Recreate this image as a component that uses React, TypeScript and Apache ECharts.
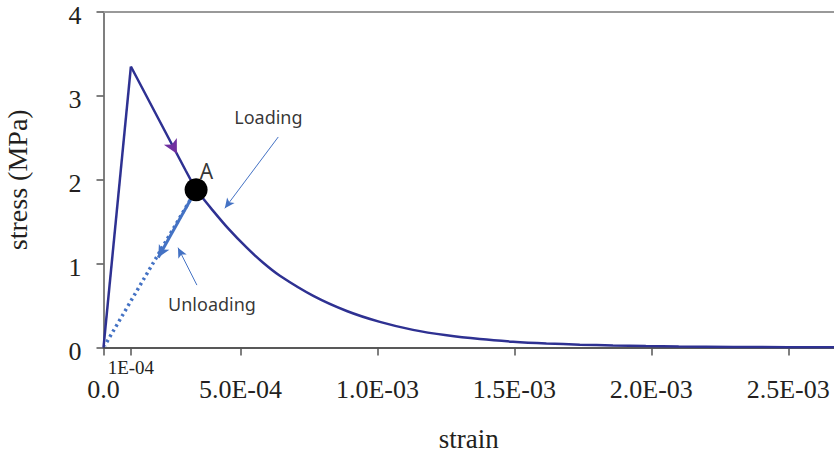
import React, { useEffect, useRef } from "react";
import * as echarts from "echarts";

// strain (-), stress (MPa)
const riseStrain = [0, 0.0001];
const riseStress = [0, 3.35];
const softenStrain = [0.0001, 0.0002, 0.0003, 0.000338];
const softenStress = [3.35, 2.73, 2.11, 1.88];
const tailStrain = [0.000338, 0.000395, 0.000455, 0.000523, 0.000583, 0.000644, 0.000766, 0.000888, 0.001009, 0.00113, 0.001253, 0.001374, 0.001495, 0.001617, 0.001739, 0.00186, 0.00198, 0.0021, 0.0023, 0.0025, 0.002667];
const tailStress = [1.88, 1.65, 1.42, 1.19, 1.01, 0.855, 0.615, 0.435, 0.305, 0.21, 0.145, 0.1, 0.069, 0.048, 0.034, 0.024, 0.017, 0.012, 0.007, 0.004, 0.003];
const pointA = [0.000338, 1.88];
const purpleArrow = [0.000268, 2.31];
const unloadDottedEnd = [0.000004, 0.02];
const unloadSolidEnd = [0.0002, 1.074];
const loadingArrow = [[0.000638, 2.51], [0.000443, 1.66]];
const unloadingArrow = [[0.000341, 0.744], [0.000272, 1.19]];
const loadingLabelPos = [0.000602, 2.75];
const unloadingLabelPos = [0.000396, 0.52];
const aLabelPos = [0.000376, 2.11];

const xLabelValues = [0, 0.0005, 0.001, 0.0015, 0.002, 0.0025];
const xLabelTexts = ["0.0", "5.0E-04", "1.0E-03", "1.5E-03", "2.0E-03", "2.5E-03"];
const xExtraValue = 0.0001;
const xExtraText = "1E-04";
const xMax = 0.002667;
const yTicks = [0, 1, 2, 3, 4];

const SERIF = "'Liberation Serif', 'Times New Roman', serif";
const SANS = "'Noto Sans', 'Open Sans', sans-serif";
const NAVY = "#2E3192";
const BLUE = "#4472C4";
const TEXT = "#231F20";

export default function App() {
  const ref = useRef<HTMLDivElement>(null);
  useEffect(() => {
    if (!ref.current) return;
    const chart = echarts.init(ref.current, undefined, { renderer: "svg" });
    const zip = (a: number[], b: number[]) => a.map((v, i) => [v, b[i]]);
    chart.setOption({
      animation: false,
      grid: { left: 103.5, top: 12, right: 0, bottom: 105.5, outerBoundsMode: "none", containLabel: false },
      xAxis: [
        {
          type: "value",
          position: "bottom",
          min: 0,
          max: xMax,
          name: "strain",
          nameLocation: "middle",
          nameGap: 78,
          nameTextStyle: { fontFamily: SERIF, fontSize: 27, color: TEXT },
          splitLine: { show: false },
          axisLine: { show: true, lineStyle: { color: "#222", width: 1.5 } },
          axisTick: {
            show: true,
            inside: false,
            length: 8,
            lineStyle: { color: "#555", width: 1.5 },
            customValues: [xExtraValue, ...xLabelValues],
          },
          axisLabel: {
            show: true,
            margin: 10,
            color: TEXT,
            customValues: [xExtraValue, ...xLabelValues],
            formatter: (v: number) => {
              if (Math.abs(v - xExtraValue) < 1e-9) return "{s|" + xExtraText + "}";
              const i = xLabelValues.findIndex((x) => Math.abs(x - v) < 1e-9);
              return i >= 0 ? "{b|" + xLabelTexts[i] + "}" : "";
            },
            rich: {
              s: { fontFamily: SERIF, fontSize: 19, color: TEXT },
              b: { fontFamily: SERIF, fontSize: 26, color: TEXT, padding: [19, 0, 0, 0] },
            },
          },
        },
        {
          type: "value",
          position: "top",
          min: 0,
          max: xMax,
          splitLine: { show: false },
          axisLine: { show: true, lineStyle: { color: "#999", width: 2 } },
          axisTick: { show: false },
          axisLabel: { show: false },
        },
      ],
      yAxis: {
        type: "value",
        min: 0,
        max: 4,
        interval: 1,
        name: "stress (MPa)",
        nameLocation: "middle",
        nameGap: 72,
        nameTextStyle: { fontFamily: SERIF, fontSize: 28, color: TEXT },
        splitLine: { show: false },
        axisLine: { show: true, lineStyle: { color: "#555", width: 1.5 } },
        axisTick: { show: true, length: 7, lineStyle: { color: "#555", width: 1.5 } },
        axisLabel: {
          margin: 22,
          color: TEXT,
          formatter: (v: number) => (yTicks.includes(v) ? "{v|" + v + "}" : ""),
          rich: {
            v: { fontFamily: SERIF, fontSize: 26, color: TEXT, padding: [7, 0, 0, 0] },
          },
        },
      },
      series: [
        {
          type: "line",
          data: zip(riseStrain, riseStress),
          symbol: "none",
          lineStyle: { color: NAVY, width: 2.5 },
          z: 3,
        },
        {
          type: "line",
          data: zip(softenStrain, softenStress),
          symbol: "none",
          lineStyle: { color: NAVY, width: 2.5 },
          z: 3,
        },
        {
          type: "line",
          data: zip(tailStrain, tailStress),
          symbol: "none",
          smooth: 0.3,
          lineStyle: { color: NAVY, width: 2.5 },
          z: 3,
        },
        {
          type: "line",
          data: [pointA, unloadDottedEnd],
          symbol: "none",
          lineStyle: { color: BLUE, width: 3.5, type: [2.5, 3.5] },
          z: 2,
          markLine: {
            silent: true,
            symbol: ["none", "arrow"],
            symbolSize: [9, 12],
            label: { show: false },
            lineStyle: { color: BLUE, width: 3, type: "solid" },
            data: [[{ coord: pointA }, { coord: unloadSolidEnd }]],
          },
        },
        {
          type: "line",
          data: [],
          symbol: "none",
          markLine: {
            silent: true,
            symbol: ["none", "arrow"],
            symbolSize: [7, 10],
            label: { show: false },
            lineStyle: { color: BLUE, width: 1, type: "solid" },
            data: [
              [{ coord: loadingArrow[0] }, { coord: loadingArrow[1] }],
              [{ coord: unloadingArrow[0] }, { coord: unloadingArrow[1] }],
            ],
          },
        },
        {
          type: "scatter",
          data: [purpleArrow],
          symbol: "arrow",
          symbolSize: [11, 14],
          symbolRotate: -152,
          itemStyle: { color: "#7030A0", opacity: 1 },
          z: 4,
        },
        {
          type: "scatter",
          data: [pointA],
          symbol: "circle",
          symbolSize: 23,
          itemStyle: { color: "#000", opacity: 1 },
          z: 5,
        },
        {
          type: "scatter",
          data: [
            { value: loadingLabelPos, label: { formatter: "Loading" } },
            { value: unloadingLabelPos, label: { formatter: "Unloading" } },
            { value: aLabelPos, label: { formatter: "A", fontSize: 21 } },
          ],
          symbolSize: 1,
          itemStyle: { color: "transparent" },
          label: {
            show: true,
            position: "inside",
            fontFamily: SANS,
            fontSize: 18,
            color: "#000",
          },
          z: 6,
        },
      ],
    });
    return () => chart.dispose();
  }, []);
  return <div ref={ref} style={{ position: "absolute", left: 0, top: 0, width: 834, height: 453 }} />;
}
